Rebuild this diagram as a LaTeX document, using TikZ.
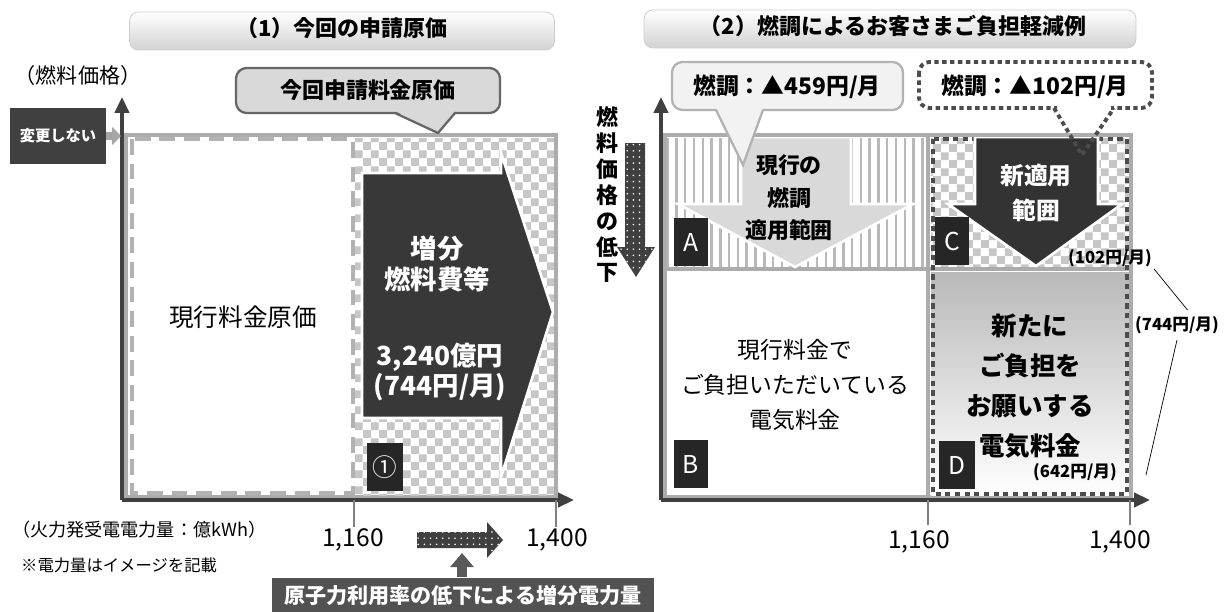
\documentclass[tikz,border=0pt]{standalone}
\usepackage{fontspec}
\setmainfont{Noto Sans CJK JP}
\usetikzlibrary{arrows.meta,patterns.meta}
\newcommand{\fsize}[1]{\fontsize{#1}{#1}\selectfont}
\tikzdeclarepattern{
  name=checks,
  type=uncolored,
  bottom left={(0pt,0pt)},
  top right={(9pt,9pt)},
  tile size={(9pt,9pt)},
  code={
    \fill (0pt,0pt) rectangle (4.5pt,4.5pt);
    \fill (4.5pt,4.5pt) rectangle (9pt,9pt);
  }
}
\begin{document}
\begin{tikzpicture}[x=0.02cm,y=-0.02cm,
  titlebox/.style={draw=gray!40,rounded corners=5pt,top color=white,bottom color=gray!35},
  darkbox/.style={fill=darkgray,text=white},
  badge/.style={fill=black!85,text=white,inner sep=0pt,minimum width=0.68cm,minimum height=0.98cm,font=\fsize{14}},
  axis/.style={line width=2pt,draw=black!75,-{Triangle[length=9pt,width=8pt]}},
  tick/.style={line width=0.6pt,draw=gray},
  frame/.style={line width=2.5pt,draw=gray!65},
  blockarrow/.style={draw=white,line width=1.5pt,line join=miter},
  dotarrow/.style={fill=black!75,postaction={pattern={Dots[distance=3.5pt,radius=0.5pt]},pattern color=white}},
  callout/.style={line width=1.3pt,rounded corners=6pt},
]
\useasboundingbox (0,0) rectangle (1225,612);

% titles
\node[titlebox,minimum width=8.5cm,minimum height=0.76cm] (title1) at (342,31) {};
\node[font=\fsize{12.5}\bfseries] (title1txt) at (342,28) {（1）今回の申請原価};
\node[titlebox,minimum width=9.84cm,minimum height=0.76cm] (title2) at (890,29) {};
\node[font=\fsize{12.5}\bfseries] (title2txt) at (893,26) {（2）燃調によるお客さまご負担軽減例};

% ---- (1) left chart ----
\draw[frame,fill=white] (126,135) rectangle (556,497);
\fill[pattern=checks,pattern color=gray!45] (355,138) rectangle (554,495);
\draw[line width=2.5pt,gray!60,dash pattern=on 9pt off 5pt] (132,139) rectangle (353,493);
\draw[frame] (126,135) -- (556,135) -- (556,497);
% increase arrow
\draw[blockarrow,fill=black!78] (362,173) -- (501,173) -- (501,153) -- (553,312) -- (501,477) -- (501,418) -- (362,418) -- cycle;
\node[text=white,font=\fontsize{15}{18}\selectfont\bfseries,align=center] (zoubun) at (437,264) {増分\\燃料費等};
\node[text=white,font=\fontsize{15}{17.5}\selectfont\bfseries,align=center] (zoubunval) at (440,372) {3,240億円\\(744円/月)};
\node[badge,minimum width=0.72cm] (b1) at (385,467) {①};
\node[font=\fsize{14}] (genko) at (243,317) {現行料金原価};

% axes
\coordinate (o1) at (122,500);
\draw[axis] (o1) -- (122,97);
\draw[axis] (o1) -- (574,500);
\draw[tick] (354,500) -- (354,527);
\draw[tick] (556,500) -- (556,527);
\node[font=\fsize{14}] (x1160a) at (353,540) {1,160};
\node[font=\fsize{14}] (x1400a) at (557,540) {1,400};
\node[font=\fsize{12}] (nenryo) at (78,75) {（燃料価格）};

% unchanged
\node[darkbox,minimum width=1.92cm,minimum height=1.14cm,font=\fsize{8.7}\bfseries] (henkou) at (58,136) {変更しない};
\coordinate (yax1) at (121,136);
\draw[-{Triangle[length=5pt,width=10pt]},line width=4pt,gray!70] (henkou.east) -- (yax1);

% callout
\draw[callout,draw=black!60,fill=gray!30] (236,68) rectangle (500,113);
\fill[gray!30] (395,111) -- (438,133) -- (455,111) -- cycle;
\draw[line width=1.3pt,black!60] (395,113) -- (438,133) -- (455,113);
\node[font=\fsize{12.5}\bfseries] (genka) at (368,90) {今回申請料金原価};

% bottom notes
\node[font=\fsize{10.3},anchor=west] (kwh) at (6,530) {（火力発受電電力量：億kWh）};
\node[font=\fsize{9.3},anchor=west] (note) at (15,565) {※電力量はイメージを記載};
\path[dotarrow] (417,532) -- (487,532) -- (487,522) -- (503,540) -- (487,558) -- (487,548) -- (417,548) -- cycle;
\coordinate (dotarr) at (462,553);
\node[darkbox,fill=black!68,minimum width=7.66cm,minimum height=0.74cm,font=\fsize{12}\bfseries] (zoubox) at (463,596) {原子力利用率の低下による増分電力量};
\draw[-{Triangle[length=8pt,width=13pt]},line width=5.5pt,black!65] (zoubox.north -| dotarr) -- (dotarr);

% ---- (2) right chart ----
\draw[frame,fill=white] (665,135) rectangle (1131,497);
\fill[pattern={Lines[angle=90,distance=5pt,line width=1.4pt]},pattern color=gray!55] (667,138) rectangle (926,266);
\fill[pattern=checks,pattern color=gray!45] (931,138) rectangle (1129,266);
\fill[top color=gray!55,bottom color=white] (931,272) rectangle (1129,495);
\draw[frame] (665,269) -- (1131,269);
\draw[frame] (928,135) -- (928,497);
\draw[line width=2.2pt,black!70,dash pattern=on 3pt off 2.5pt] (933,139) rectangle (1127,494);
% current and new range
\draw[blockarrow,fill=gray!30] (741,137) -- (851,137) -- (851,204) -- (913,204) -- (795,267) -- (678,204) -- (741,204) -- cycle;
\draw[blockarrow,fill=black!80] (975,137) -- (1098,137) -- (1098,204) -- (1122,204) -- (1036,266) -- (948,204) -- (975,204) -- cycle;
\draw[frame] (665,135) -- (1131,135) -- (1131,497);
\node[font=\fontsize{12.5}{18.4}\selectfont\bfseries,align=center] (genkoA) at (789,198) {現行の\\燃調\\適用範囲};
\node[text=white,font=\fontsize{13.5}{19.8}\selectfont\bfseries,align=center] (shinC) at (1036,193) {新適用\\範囲};
\node[font=\fontsize{13}{19.8}\selectfont,align=center] (genkoB) at (795,385) {現行料金で\\ご負担いただいている\\電気料金};
\node[font=\fontsize{14.5}{22.7}\selectfont\bfseries,align=center] (aratD) at (1030,386) {新たに\\ご負担を\\お願いする\\電気料金};
\node[font=\fsize{9.5}\bfseries] (lbl642) at (1075,472) {(642円/月)};
\node[badge] (bA) at (691,242) {A};
\node[badge] (bB) at (691,464) {B};
\node[badge] (bC) at (952,241) {C};
\node[badge,minimum width=0.72cm] (bD) at (957,465) {D};

% axes
\coordinate (o2) at (661,500);
\draw[axis] (o2) -- (661,97);
\draw[axis] (o2) -- (1150,500);
\draw[tick] (928,500) -- (928,525);
\draw[tick] (1130,500) -- (1130,525);
\node[font=\fsize{14}] (x1160b) at (919,542) {1,160};
\node[font=\fsize{14}] (x1400b) at (1120,542) {1,400};

% fuel price falls
\node[font=\fontsize{12.5}{14.7}\selectfont\bfseries,align=center,inner sep=0pt] (teika) at (607,195) {燃\\料\\価\\格\\の\\低\\下};
\path[dotarrow] (625,143) -- (645,143) -- (645,247) -- (655,247) -- (636,277) -- (617,247) -- (625,247) -- cycle;

% callouts
\draw[callout,draw=gray!60,fill=gray!10] (672,62) rectangle (903,110);
\fill[gray!10] (716,108) -- (743,165) -- (763,108) -- cycle;
\draw[line width=1.3pt,gray!60] (716,110) -- (743,165) -- (763,110);
\node[font=\fsize{13}\bfseries] (nencho1) at (787,87) {燃調：▲459円/月};
\draw[line width=2.2pt,black!70,dash pattern=on 2.5pt off 2pt,fill=white,rounded corners=6pt] (919,62) rectangle (1152,108);
\fill[white] (1057,104) rectangle (1111,112);
\draw[line width=2.2pt,black!70,dash pattern=on 2.5pt off 2pt] (1054,108) -- (1082,155) -- (1114,108);
\node[font=\fsize{13}\bfseries] (nencho2) at (1035,87) {燃調：▲102円/月};

% amounts
\node[font=\fsize{9.5}\bfseries,inner sep=1pt] (lbl102) at (1110,258) {(102円/月)};
\node[font=\fsize{9.5}\bfseries] (lbl744) at (1177,325) {(744円/月)};
\coordinate (d642) at (1146,475);
\draw[thin] (lbl102.south east) -- ([xshift=6pt]lbl744.north);
\draw[thin] (lbl744.south) -- (d642);
\end{tikzpicture}
\end{document}
